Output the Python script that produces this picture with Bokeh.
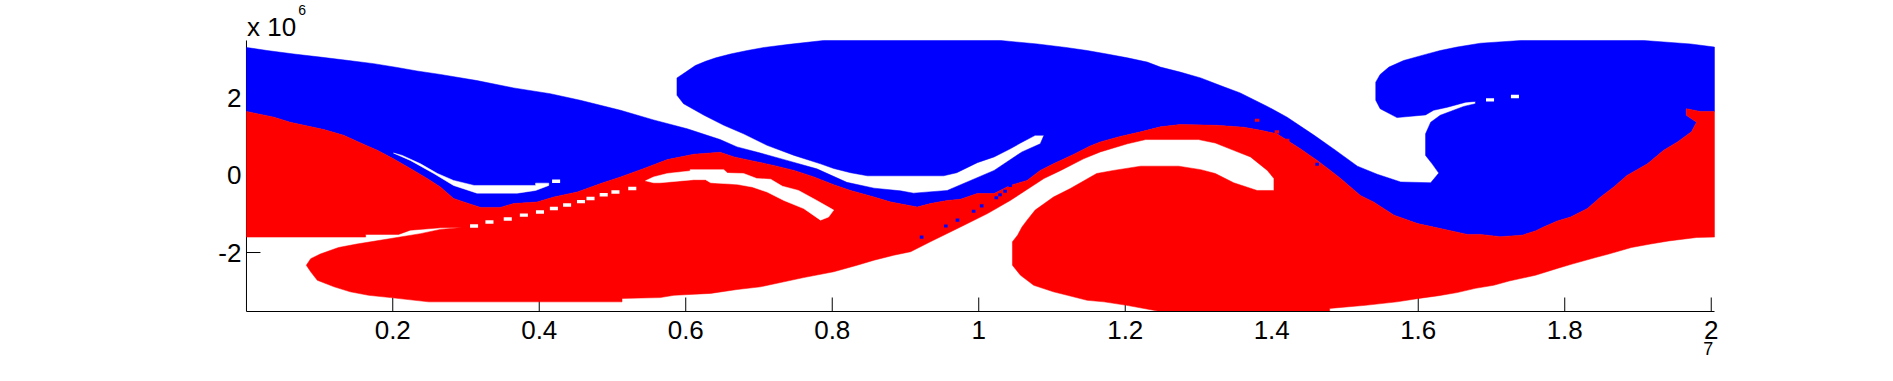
from bokeh.embed import file_html
from bokeh.resources import INLINE
from bokeh.models import Range1d, FixedTicker, Label
from bokeh.plotting import figure

blue_top_x = [0.0003, .0285, .065, .101, .140, .174, .206, .233, .265, .315, .365, .415, .456, .511, .556, .602, .647, .670, .702, .738, .779, .820, .857, .893, .911, .957, .989, 1.021, 1.059, 1.084, 1.089, 1.077, 1.057, 1.043, 1.021, .998, .970, .952, .848, .825, .802, .784, .748, .711, .679, .652, .625, .597, .588, .588, .600, .613, .627, .641, .661, .684, .707, .741, .788, 1.030, 1.080, 1.119, 1.148, 1.175, 1.203, 1.230, 1.248, 1.275, 1.303, 1.330, 1.357, 1.394, 1.421, 1.458, 1.485, 1.517, 1.544, 1.576, 1.617, 1.628, 1.619, 1.610, 1.610, 1.617, 1.630, 1.662, 1.678, 1.678, 1.665, 1.640, 1.621, 1.610, 1.571, 1.548, 1.542, 1.542, 1.548, 1.560, 1.580, 1.610, 1.630, 1.653, 1.685, 1.740, 1.908, 1.972, 2.0044]
blue_top_y = [3.32, 3.24, 3.15, 3.07, 2.98, 2.90, 2.80, 2.71, 2.62, 2.46, 2.27, 2.12, 1.95, 1.69, 1.44, 1.21, .93, .74, .58, .39, .17, -.18, -.33, -.40, -.46, -.39, -.13, .13, .61, .82, 1.04, 1.04, .84, .69, .48, .33, .07, -.01, -.01, .07, .18, .30, .52, .78, 1.08, 1.30, 1.56, 1.86, 2.08, 2.53, 2.68, 2.85, 2.96, 3.05, 3.15, 3.24, 3.32, 3.40, 3.50, 3.50, 3.41, 3.32, 3.24, 3.15, 3.05, 2.94, 2.81, 2.68, 2.53, 2.33, 2.14, 1.79, 1.51, 1.04, .68, .24, .03, -.17, -.19, .06, .30, .52, 1.08, 1.38, 1.56, 1.79, 1.86, 1.92, 1.90, 1.77, 1.69, 1.57, 1.50, 1.73, 1.95, 2.42, 2.62, 2.81, 2.98, 3.14, 3.24, 3.33, 3.43, 3.50, 3.50, 3.41, 3.33]

interface_x = [0.0003, .015, .038, .060, .079, .106, .133, .160, .179, .201, .224, .247, .265, .283, .297, .320, .347, .365, .397, .420, .452, .484, .511, .543, .575, .611, .647, .666, .693, .720, .748, .775, .802, .825, .857, .880, .916, .934, .957, .975, .998, 1.021, 1.043, 1.066, 1.084, 1.102, 1.130, 1.152, 1.166, 1.193, 1.221, 1.248, 1.275, 1.325, 1.362, 1.385, 1.407, 1.439, 1.462, 1.480, 1.494, 1.521, 1.539, 1.567, 1.599, 1.621, 1.667, 1.685, 1.712, 1.742, 1.760, 1.771, 1.790, 1.808, 1.831, 1.849, 1.867, 1.885, 1.913, 1.935, 1.954, 1.973, 1.980, 1.966, 1.966, 1.985, 2.0044]
interface_y = [1.66, 1.60, 1.51, 1.38, 1.30, 1.19, 1.04, .81, .65, .43, .18, -.08, -.30, -.60, -.69, -.83, -.83, -.73, -.69, -.56, -.43, -.21, -.04, .18, .41, .55, .60, .48, .37, .26, .13, -.04, -.24, -.39, -.56, -.69, -.82, -.73, -.65, -.62, -.47, -.47, -.26, -.13, .13, .30, .55, .76, .87, 1.01, 1.13, 1.26, 1.32, 1.30, 1.25, 1.17, 1.08, .69, .39, .13, -.08, -.52, -.69, -1.03, -1.25, -1.34, -1.53, -1.53, -1.59, -1.55, -1.44, -1.34, -1.18, -1.08, -.86, -.56, -.30, 0.0, .30, .65, .87, 1.13, 1.38, 1.56, 1.73, 1.66, 1.66]

red_low_x = [2.0044, 1.980, 1.942, 1.917, 1.891, 1.860, 1.842, 1.810, 1.792, 1.760, 1.724, 1.703, 1.678, 1.653, 1.628, 1.601, 1.571, 1.528, 1.479, 1.479, 1.248, 1.202, 1.171, 1.148, 1.121, 1.102, 1.075, 1.057, 1.046, 1.046, 1.053, 1.059, 1.066, 1.077, 1.102, 1.125, 1.161, 1.184, 1.221, 1.248, 1.273, 1.303, 1.323, 1.348, 1.380, 1.403, 1.403, 1.394, 1.371, 1.348, 1.323, 1.300, 1.228, 1.203, 1.166, 1.143, 1.112, 1.089, 1.043, 1.012, .975, .934, .907, .884, .857, .834, .802, .761, .734, .702, .670, .634, .584, .565, .513, .513, .249, .197, .167, .142, .120, .097, .088, .082, .088, .101, .126, .151, .206, .238, .265, .295, .265, .224, .208, .163, .163, 0.0003]
red_low_y = [-1.60, -1.61, -1.70, -1.78, -1.87, -2.04, -2.13, -2.30, -2.40, -2.59, -2.74, -2.85, -2.93, -3.04, -3.12, -3.19, -3.28, -3.37, -3.45, -3.53, -3.53, -3.37, -3.28, -3.24, -3.11, -3.02, -2.85, -2.59, -2.33, -1.72, -1.55, -1.34, -1.16, -.90, -.56, -.34, .05, .13, .24, .24, .24, .15, .05, -.19, -.39, -.39, -.08, .13, .48, .65, .84, .93, .93, .82, .61, .43, .13, -.08, -.65, -.99, -1.34, -1.72, -1.98, -2.07, -2.20, -2.33, -2.50, -2.65, -2.76, -2.89, -2.96, -3.06, -3.11, -3.17, -3.19, -3.28, -3.28, -3.17, -3.11, -3.02, -2.89, -2.72, -2.50, -2.33, -2.16, -2.04, -1.87, -1.78, -1.61, -1.51, -1.40, -1.35, -1.36, -1.42, -1.53, -1.53, -1.60, -1.60]

gap_red_x = [.545, .556, .575, .606, .606, .652, .657, .679, .697, .716, .732, .754, .779, .802, .795, .784, .761, .734, .711, .691, .670, .634, .627, .611, .565, .556]
gap_red_y = [-.14, -.04, .05, .115, .15, .15, .06, .05, -.08, -.10, -.28, -.39, -.65, -.90, -1.08, -1.16, -.86, -.65, -.43, -.30, -.23, -.19, -.11, -.11, -.19, -.19]

gap_blue_x = [.201, .213, .238, .261, .283, .311, .395, .395, .413, .413, .395, .370, .315, .283, .256, .224]
gap_blue_y = [.58, .52, .30, .05, -.13, -.26, -.26, -.20, -.20, -.26, -.39, -.46, -.46, -.26, .05, .39]

white_dash_x = [.311, .332, .357, .379, .401, .420, .438, .457, .470, .488, .504, .527, .423, 1.698, 1.732]
white_dash_y = [-1.31, -1.21, -1.13, -1.03, -.95, -.86, -.77, -.68, -.60, -.50, -.43, -.34, -.15, 1.96, 2.05]

blue_cell_x = [.922, .955, .971, .993, 1.004, 1.024, 1.029, 1.036, 1.043, 1.462]
blue_cell_y = [-1.60, -1.31, -1.16, -.93, -.79, -.58, -.50, -.41, -.26, .29]

red_cell_x = [1.380, 1.407, 1.421]
red_cell_y = [1.43, 1.13, .91]

x_ticks = [.2, .4, .6, .8, 1, 1.2, 1.4, 1.6, 1.8, 2]
x_labels = ["0.2", "0.4", "0.6", "0.8", "1", "1.2", "1.4", "1.6", "1.8", "2"]
y_ticks = [-2, 0, 2]
y_labels = ["-2", "0", "2"]

FONT = "Liberation Sans"
X0, X1, Y0, Y1 = 0.0003, 2.0044, -3.53, 3.5

# The frame fills the whole canvas so the "x 10", "6" and "7" labels outside the axes box are not clipped.
p = figure(width=1885, height=373, output_backend="svg", toolbar_location=None,
           x_range=Range1d(-0.3355, 2.2379), y_range=Range1d(-5.1383, 4.5376),
           min_border=0, outline_line_color=None, background_fill_color="white")
p.grid.visible = False

for ax, ticks, labels, loc, bounds in ((p.xaxis[0], x_ticks, x_labels, Y0, (X0, X1)),
                                       (p.yaxis[0], y_ticks, y_labels, X0, (Y0, Y1))):
    ax.fixed_location = loc
    ax.bounds = bounds
    ax.ticker = FixedTicker(ticks=ticks)
    ax.major_label_overrides = {t: l for t, l in zip(ticks, labels)}
    ax.major_tick_in = 0
    ax.major_tick_out = 0
    ax.minor_tick_line_color = None
    ax.major_tick_line_color = None
    ax.axis_line_color = "black"
    ax.major_label_text_font = FONT
    ax.major_label_text_font_size = "26px"
    ax.major_label_text_color = "black"
p.xaxis[0].major_label_standoff = 9
p.yaxis[0].major_label_standoff = 5
p.yaxis[0].axis_line_color = None

# Ticks and the y axis line sit beneath the filled regions, as in the reference.
tick_dx, tick_dy = 14 / 732.5, 14 / 38.55
p.segment(x_ticks, [Y0] * len(x_ticks), x_ticks, [Y0 + tick_dy] * len(x_ticks), line_color="black", line_width=1)
p.segment([X0] * len(y_ticks), y_ticks, [X0 + tick_dx] * len(y_ticks), y_ticks, line_color="black", line_width=1)
p.segment([X0], [Y0], [X0], [Y1], line_color="black", line_width=1)

blue_x = blue_top_x + interface_x[::-1]
blue_y = blue_top_y + interface_y[::-1]
p.patch(blue_x, blue_y, fill_color="#0000ff", line_color="#0000ff", line_width=0.5)
p.patch(interface_x + red_low_x, interface_y + red_low_y, fill_color="#ff0000", line_color="#ff0000", line_width=0.5)
p.patch(gap_red_x, gap_red_y, fill_color="white", line_color="white", line_width=0.5)
p.patch(gap_blue_x, gap_blue_y, fill_color="white", line_color="white", line_width=0.5)
p.rect(white_dash_x, white_dash_y, width=.011, height=.09, fill_color="white", line_color=None)
p.rect(blue_cell_x, blue_cell_y, width=.005, height=.08, fill_color="#0000ff", line_color=None)
p.rect(red_cell_x, red_cell_y, width=.006, height=.08, fill_color="#ff0000", line_color=None)

p.add_layout(Label(x=0.001, y=3.86, text="x 10", text_baseline="alphabetic",
                   text_font=FONT, text_font_size="26px", text_color="black"))
p.add_layout(Label(x=0.071, y=4.28, text="6", text_baseline="alphabetic",
                   text_font=FONT, text_font_size="14px", text_color="black"))
p.add_layout(Label(x=1.989, y=-4.50, text="7", text_baseline="alphabetic",
                   text_font=FONT, text_font_size="18px", text_color="black"))

open("out.html", "w").write(file_html(p, INLINE))
